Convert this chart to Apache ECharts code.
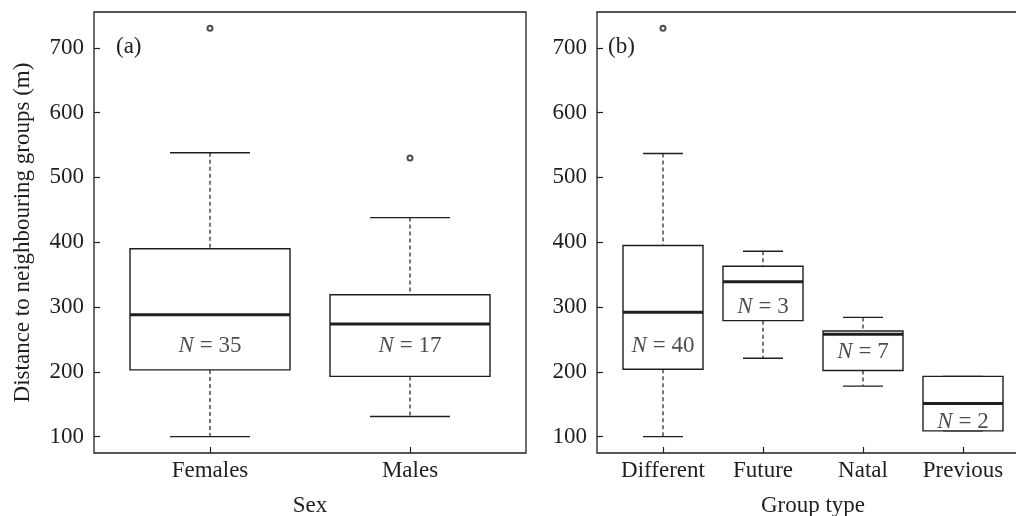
<!DOCTYPE html>
<html><head><meta charset="utf-8">
<script src="https://cdn.jsdelivr.net/npm/echarts@6/dist/echarts.min.js"></script>
<style>html,body{margin:0;padding:0;background:#fff}#c{width:1016px;height:516px}</style>
</head><body><div id="c"></div>
<script>
// ---- Panel (a): Sex ----
const sexCategories = ['Females', 'Males'];
const sexLow    = [100, 131];
const sexQ1     = [203, 193];
const sexMedian = [288, 274];
const sexQ3     = [390, 319];
const sexHigh   = [538, 438];
const sexOutlierCat = [0, 1];
const sexOutlierVal = [730, 530];
const sexN = [35, 17];
const sexNLabelAt = [240, 240];

// ---- Panel (b): Group type ----
const groupCategories = ['Different', 'Future', 'Natal', 'Previous'];
const groupLow    = [100, 221, 178, 109];
const groupQ1     = [204, 279, 202, 109];
const groupMedian = [292, 339, 258, 151];
const groupQ3     = [395, 363, 263, 193];
const groupHigh   = [537, 386, 284, 193];
const groupOutlierCat = [0];
const groupOutlierVal = [730];
const groupN = [40, 3, 7, 2];
const groupNLabelAt = [240, 300, 230, 123];

const yTicks = [100, 200, 300, 400, 500, 600, 700];

const INK = '#1f1f1f';
const FONT = '"Liberation Serif", "DejaVu Serif", serif';
const FS = 23;

// R-style 4% axis extension
const allVals = [].concat(sexLow, sexHigh, sexOutlierVal, groupLow, groupHigh, groupOutlierVal);
const dMin = Math.min.apply(null, allVals), dMax = Math.max.apply(null, allVals);
const yMin = dMin - 0.04 * (dMax - dMin), yMax = dMax + 0.04 * (dMax - dMin);
function xRange(n) { return [0.5 - 0.04 * n, n + 0.5 + 0.04 * n]; }

function boxData(low, q1, med, q3, high) {
  return low.map((v, i) => [i + 1, low[i], q1[i], med[i], q3[i], high[i]]);
}

function boxRender(params, api) {
  const x = api.value(0), lo = api.value(1), q1 = api.value(2), md = api.value(3), q3 = api.value(4), hi = api.value(5);
  const tl = api.coord([x - 0.4, q3]);
  const br = api.coord([x + 0.4, q1]);
  const cx = api.coord([x, md])[0];
  const capL = api.coord([x - 0.2, md])[0], capR = api.coord([x + 0.2, md])[0];
  const yLo = api.coord([x, lo])[1], yHi = api.coord([x, hi])[1], yMd = api.coord([x, md])[1];
  const dash = { stroke: INK, lineWidth: 1.2, lineDash: [4, 3] };
  const solid = { stroke: INK, lineWidth: 1.4 };
  return {
    type: 'group',
    children: [
      { type: 'line', shape: { x1: cx, y1: yHi, x2: cx, y2: tl[1] }, style: dash },
      { type: 'line', shape: { x1: cx, y1: br[1], x2: cx, y2: yLo }, style: dash },
      { type: 'line', shape: { x1: capL, y1: yHi, x2: capR, y2: yHi }, style: solid },
      { type: 'line', shape: { x1: capL, y1: yLo, x2: capR, y2: yLo }, style: solid },
      { type: 'rect', shape: { x: tl[0], y: tl[1], width: br[0] - tl[0], height: br[1] - tl[1] },
        style: { fill: '#fff', stroke: INK, lineWidth: 1.4 } },
      { type: 'line', shape: { x1: tl[0], y1: yMd, x2: br[0], y2: yMd }, style: { stroke: INK, lineWidth: 3 } }
    ]
  };
}

function xAxisCfg(gi, cats, name, gap) {
  const r = xRange(cats.length);
  const ticks = cats.map((c, i) => i + 1);
  return {
    type: 'value', gridIndex: gi, min: r[0], max: r[1],
    name: name, nameLocation: 'middle', nameGap: gap,
    nameTextStyle: { fontFamily: FONT, fontSize: FS, color: INK },
    axisLine: { show: false },
    axisTick: { show: true, inside: true, length: 6, lineStyle: { color: INK, width: 1.2 }, customValues: ticks },
    axisLabel: { show: true, customValues: ticks, margin: 6, fontFamily: FONT, fontSize: FS, color: INK,
      formatter: v => cats[Math.round(v) - 1] || '' },
    splitLine: { show: false }
  };
}
function yAxisCfg(gi, name) {
  return {
    type: 'value', gridIndex: gi, min: yMin, max: yMax,
    name: name, nameLocation: 'middle', nameGap: 60, nameRotate: 90,
    nameTextStyle: { fontFamily: FONT, fontSize: FS, color: INK },
    axisLine: { show: false },
    axisTick: { show: true, inside: true, length: 6, lineStyle: { color: INK, width: 1.2 }, customValues: yTicks },
    axisLabel: { show: true, customValues: yTicks, margin: 10, fontFamily: FONT, fontSize: FS, color: INK },
    splitLine: { show: false }
  };
}

function nLabelSeries(gi, nVals, at) {
  return {
    type: 'scatter', xAxisIndex: gi, yAxisIndex: gi, symbolSize: 0, silent: true,
    data: nVals.map((n, i) => [i + 1, at[i], n]),
    label: {
      show: true, position: 'inside',
      formatter: p => '{i|N} = ' + p.value[2],
      fontFamily: FONT, fontSize: FS, color: INK,
      rich: { i: { fontFamily: FONT, fontSize: FS, fontStyle: 'italic', color: INK } }
    },
    z: 5
  };
}
function outlierSeries(gi, cats, vals) {
  return {
    type: 'scatter', xAxisIndex: gi, yAxisIndex: gi, symbol: 'emptyCircle', symbolSize: 5, silent: true,
    itemStyle: { color: INK, borderColor: INK, borderWidth: 0.8 },
    data: cats.map((c, i) => [c + 1, vals[i]])
  };
}

const chart = echarts.init(document.getElementById('c'), null, { renderer: 'canvas' });
chart.setOption({
  backgroundColor: '#fff',
  animation: false,
  grid: [
    { left: 94, top: 12, width: 432, height: 441, show: true, borderColor: INK, borderWidth: 1.3, backgroundColor: 'transparent', outerBoundsMode: 'none' },
    { left: 597, top: 12, width: 432, height: 441, show: true, borderColor: INK, borderWidth: 1.3, backgroundColor: 'transparent', outerBoundsMode: 'none' }
  ],
  xAxis: [ xAxisCfg(0, sexCategories, 'Sex', 41), xAxisCfg(1, groupCategories, 'Group type', 41) ],
  yAxis: [ yAxisCfg(0, 'Distance to neighbouring groups (m)'), yAxisCfg(1, '') ],
  graphic: [
    { type: 'text', left: 116, top: 35, style: { text: '(a)', font: FS + 'px ' + FONT, fill: INK } },
    { type: 'text', left: 608, top: 35, style: { text: '(b)', font: FS + 'px ' + FONT, fill: INK } }
  ],
  series: [
    { type: 'custom', xAxisIndex: 0, yAxisIndex: 0, renderItem: boxRender, silent: true,
      data: boxData(sexLow, sexQ1, sexMedian, sexQ3, sexHigh), encode: { x: 0, y: [1, 2, 3, 4, 5] } },
    { type: 'custom', xAxisIndex: 1, yAxisIndex: 1, renderItem: boxRender, silent: true,
      data: boxData(groupLow, groupQ1, groupMedian, groupQ3, groupHigh), encode: { x: 0, y: [1, 2, 3, 4, 5] } },
    outlierSeries(0, sexOutlierCat, sexOutlierVal),
    outlierSeries(1, groupOutlierCat, groupOutlierVal),
    nLabelSeries(0, sexN, sexNLabelAt),
    nLabelSeries(1, groupN, groupNLabelAt)
  ]
});
</script></body></html>
